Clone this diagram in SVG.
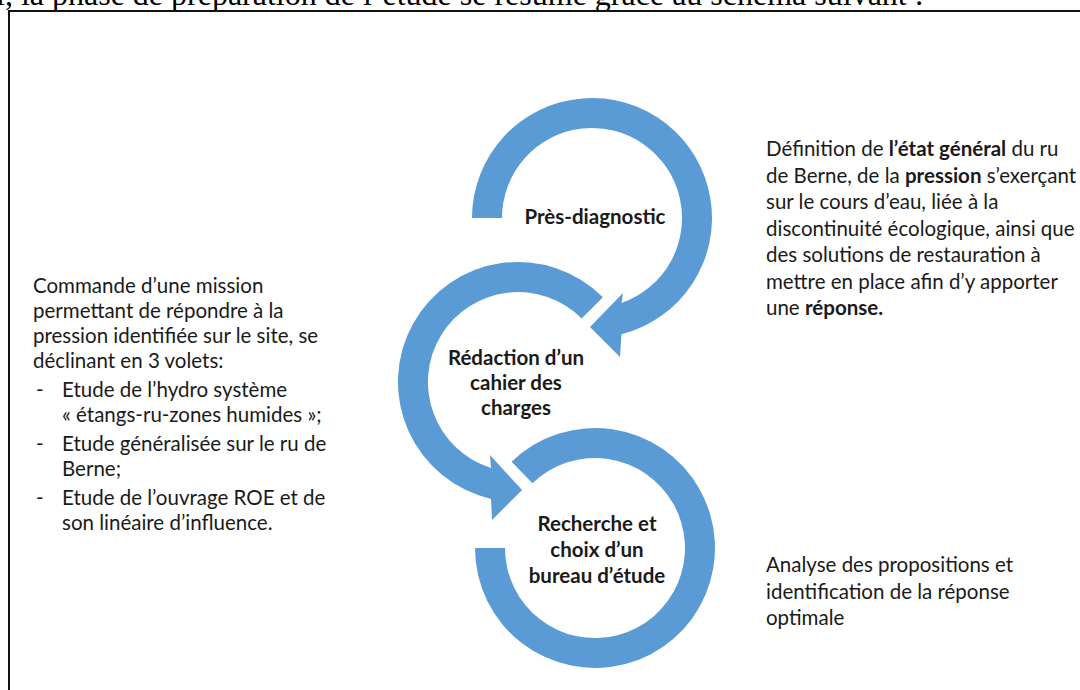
<svg xmlns="http://www.w3.org/2000/svg" width="1080" height="690" viewBox="0 0 1080 690">
<style>
.arrow{fill:#5B9BD5;}
.lbl{font-family:Lato,"Noto Sans",sans-serif;font-weight:bold;font-size:20.5px;fill:#1a1a1a;text-anchor:middle;}
.body{font-family:Lato,"Noto Sans",sans-serif;font-size:20.5px;fill:#1a1a1a;}
.b{font-weight:bold;}
.top{font-family:"Liberation Serif",serif;font-size:32px;fill:#000;}
</style>
<rect width="1080" height="690" fill="#fff"/>
<text class="top" x="-4" y="5">l, la phase de préparation de l’étude se résume grâce au schéma suivant :</text>
<rect x="9" y="11" width="1100" height="700" fill="none" stroke="#111" stroke-width="2"/>
<g id="connectors">
<path id="arrow-top" class="arrow" d="M472,218 A120,120 0 1 1 621.5,334.3 L620,357 L590,327 L623,293 L621.5,303 A90,90 0 1 0 502,218 Z"/>
<path id="arrow-mid" class="arrow" d="M602.9,297.2 A120,120 0 1 0 491,498.9 L492,520 L522,490 L490,455 L491,467.9 A90,90 0 1 1 581.6,318.4 Z"/>
<path id="arrow-bot" class="arrow" d="M511.6,461.7 A120,120 0 1 1 475,548 L505,548 A90,90 0 1 0 532.5,483.3 Z"/>
</g>
<g id="node-pres">
<text class="lbl" x="595" y="224">Près-diagnostic</text>
</g>
<g id="node-redaction">
<text class="lbl" x="516" y="365">Rédaction d’un</text>
<text class="lbl" x="516" y="390">cahier des</text>
<text class="lbl" x="516" y="415">charges</text>
</g>
<g id="node-recherche">
<text class="lbl" x="597" y="531">Recherche et</text>
<text class="lbl" x="597" y="557">choix d’un</text>
<text class="lbl" x="597" y="583">bureau d’étude</text>
</g>
<g id="text-right-top">
<text class="body" x="766" y="156">Définition de <tspan class="b">l’état général</tspan> du ru</text>
<text class="body" x="766" y="182.5">de Berne, de la <tspan class="b">pression</tspan> s’exerçant</text>
<text class="body" x="766" y="209">sur le cours d’eau, liée à la</text>
<text class="body" x="766" y="235.5">discontinuité écologique, ainsi que</text>
<text class="body" x="766" y="262">des solutions de restauration à</text>
<text class="body" x="766" y="288.5">mettre en place afin d’y apporter</text>
<text class="body" x="766" y="315">une <tspan class="b">réponse.</tspan></text>
</g>
<g id="text-left">
<text class="body" x="33" y="293">Commande d’une mission</text>
<text class="body" x="33" y="318">permettant de répondre à la</text>
<text class="body" x="33" y="343">pression identifiée sur le site, se</text>
<text class="body" x="33" y="368">déclinant en 3 volets:</text>
<text class="body" x="36" y="397">-</text>
<text class="body" x="62" y="397">Etude de l’hydro système</text>
<text class="body" x="62" y="422">« étangs-ru-zones humides »;</text>
<text class="body" x="36" y="451">-</text>
<text class="body" x="62" y="451">Etude généralisée sur le ru de</text>
<text class="body" x="62" y="476">Berne;</text>
<text class="body" x="36" y="505">-</text>
<text class="body" x="62" y="505">Etude de l’ouvrage ROE et de</text>
<text class="body" x="62" y="530">son linéaire d’influence.</text>
</g>
<g id="text-right-bottom">
<text class="body" x="766" y="572">Analyse des propositions et</text>
<text class="body" x="766" y="598.5">identification de la réponse</text>
<text class="body" x="766" y="625">optimale</text>
</g>
</svg>
